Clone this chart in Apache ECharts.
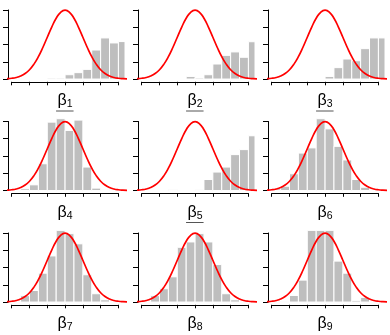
<!DOCTYPE html>
<html>
<head>
<meta charset="utf-8">
<script src="https://cdn.jsdelivr.net/npm/echarts@6/dist/echarts.min.js"></script>
<style>
  html, body { margin: 0; padding: 0; background: #fff; }
  #main { width: 390px; height: 335px; }
</style>
</head>
<body>
<div id="main"></div>
<script>
// histogram densities, bins of width 0.5, first bin starts at histStart[i]
var binWidth = 0.5;
var histStart = [-1, -0.5, 0, -2.5, -1.5, -3, -2.5, -2.5, -2.5];
var dens1 = [0.005, 0.005, 0.025, 0.037, 0.056, 0.168, 0.238, 0.209, 0.217];
var dens2 = [0.015, 0.006, 0.025, 0.087, 0.137, 0.157, 0.126, 0.216];
var dens3 = [0.015, 0.066, 0.116, 0.106, 0.176, 0.238, 0.238];
var dens4 = [0.01, 0.033, 0.155, 0.396, 0.42, 0.348, 0.408, 0.136, 0.014, 0.004];
var dens5 = [0.004, 0, 0, 0.004, 0.064, 0.107, 0.136, 0.208, 0.237, 0.317];
var dens6 = [0.01, 0.025, 0.097, 0.217, 0.247, 0.42, 0.357, 0.256, 0.177, 0.064, 0.019];
var dens7 = [0.037, 0.067, 0.167, 0.267, 0.415, 0.396, 0.337, 0.158, 0.048, 0.013];
var dens8 = [0.037, 0.077, 0.146, 0.317, 0.348, 0.396, 0.348, 0.217, 0.048, 0.013];
var dens9 = [0.004, 0.038, 0.127, 0.415, 0.415, 0.415, 0.237, 0.167, 0.008, 0.027];
var allDens = [dens1, dens2, dens3, dens4, dens5, dens6, dens7, dens8, dens9];

// red prior curve (standard normal density) read at steps of 0.25
var curveX = [-3.5, -3.25, -3, -2.75, -2.5, -2.25, -2, -1.75, -1.5, -1.25, -1, -0.75, -0.5, -0.25, 0,
              0.25, 0.5, 0.75, 1, 1.25, 1.5, 1.75, 2, 2.25, 2.5, 2.75, 3, 3.25, 3.5];
var curveY = [0.0009, 0.0020, 0.0044, 0.0091, 0.0175, 0.0317, 0.0540, 0.0863, 0.1295, 0.1826, 0.2420, 0.3011, 0.3521, 0.3867, 0.3989,
              0.3867, 0.3521, 0.3011, 0.2420, 0.1826, 0.1295, 0.0863, 0.0540, 0.0317, 0.0175, 0.0091, 0.0044, 0.0020, 0.0009];

var labels = ['1', '2', '3', '4', '5', '6', '7', '8', '9'];
var underlined = [true, true, true, false, true, false, false, false, false];

var xTicks = [-3, 3];       // axis(1) range
var yTicks = [0, 0.4];      // axis(2) range

// layout (px)
var colX = [0, 130, 260];
var rowY = [0, 111.5, 223];
var XMIN = -3.21, XMAX = 3.37;   // plot region in data units
var YMIN = -0.016, YMAX = 0.416;
var plotLeft = 8, plotTop = 7.2, plotW = 117, plotH = 74.6;
var pxX = plotW / (XMAX - XMIN);
var pxY = plotH / (YMAX - YMIN);

var myChart = echarts.init(document.getElementById('main'));

function renderBar(params, api) {
    var x0 = api.value(0);
    var h = api.value(1);
    if (!h) return;
    var p0 = api.coord([x0, h]);
    var p1 = api.coord([x0 + binWidth, 0]);
    var rect = echarts.graphic.clipRectByRect({
        x: p0[0], y: p0[1], width: p1[0] - p0[0], height: p1[1] - p0[1]
    }, {
        x: params.coordSys.x, y: params.coordSys.y,
        width: params.coordSys.width, height: params.coordSys.height
    });
    if (!rect) return;
    return {
        type: 'rect',
        shape: rect,
        style: { fill: '#bebebe', stroke: '#fff', lineWidth: 1 }
    };
}

var grid = [], xAxis = [], yAxis = [], series = [], title = [], graphic = [];

for (var i = 0; i < 9; i++) {
    var ox = colX[i % 3], oy = rowY[Math.floor(i / 3)];
    var g = grid.length;

    // data grid = R plot region
    grid.push({ left: ox + plotLeft, top: oy + plotTop, width: plotW, height: plotH });
    xAxis.push({ gridIndex: g, type: 'value', min: XMIN, max: XMAX, show: false });
    yAxis.push({ gridIndex: g, type: 'value', min: YMIN, max: YMAX, show: false });

    // axis grid, spans only the tick range like R does
    var axLeft = ox + plotLeft + (xTicks[0] - XMIN) * pxX;
    var axTop = oy + plotTop + (YMAX - yTicks[1]) * pxY;
    grid.push({
        left: axLeft, top: axTop,
        width: (xTicks[1] - xTicks[0]) * pxX,
        height: (yTicks[1] - yTicks[0]) * pxY
    });
    xAxis.push({
        gridIndex: g + 1, type: 'value', min: xTicks[0], max: xTicks[1], interval: 1,
        offset: (yTicks[0] - YMIN) * pxY,
        axisLine: { onZero: false, lineStyle: { color: '#000', width: 1 } },
        axisTick: { length: 3.5, lineStyle: { color: '#000' } },
        axisLabel: { show: false }, splitLine: { show: false }
    });
    yAxis.push({
        gridIndex: g + 1, type: 'value', min: yTicks[0], max: yTicks[1], interval: 0.1,
        offset: (xTicks[0] - XMIN) * pxX,
        axisLine: { show: true, onZero: false, lineStyle: { color: '#000', width: 1 } },
        axisTick: { show: true, length: 5, lineStyle: { color: '#000' } },
        axisLabel: { show: false }, splitLine: { show: false }
    });

    var bars = allDens[i].map(function (d, k) {
        return [histStart[i] + k * binWidth, d];
    });
    series.push({
        type: 'custom', xAxisIndex: g, yAxisIndex: g,
        renderItem: renderBar, data: bars, silent: true
    });
    series.push({
        type: 'line', xAxisIndex: g, yAxisIndex: g,
        data: curveX.map(function (x, k) { return [x, curveY[k]]; }),
        smooth: true, showSymbol: false, silent: true,
        lineStyle: { color: '#ff0000', width: 1.7 }
    });

    var cx = ox + plotLeft + (0 - XMIN) * pxX;
    title.push({
        text: '{b|β}{s|' + labels[i] + '}',
        left: cx, top: oy + 92, textAlign: 'center',
        padding: 0,
        textStyle: {
            fontWeight: 'normal',
            rich: {
                b: { fontFamily: 'Liberation Sans', fontWeight: 'normal', fontSize: 16, color: '#000', lineHeight: 18 },
                s: { fontFamily: 'Liberation Sans', fontWeight: 'normal', fontSize: 10.5, color: '#000', lineHeight: 18, padding: [7, 0, 0, 0] }
            }
        }
    });
    if (underlined[i]) {
        graphic.push({
            type: 'line', silent: true,
            shape: { x1: cx - 9, y1: oy + 111, x2: cx + 8.5, y2: oy + 111 },
            style: { stroke: '#555', lineWidth: 1 }
        });
    }
}

var option = {
    animation: false,
    backgroundColor: '#fff',
    title: title,
    grid: grid,
    xAxis: xAxis,
    yAxis: yAxis,
    series: series,
    graphic: graphic
};
myChart.setOption(option);
window.onresize = myChart.resize;
</script>
</body>
</html>
